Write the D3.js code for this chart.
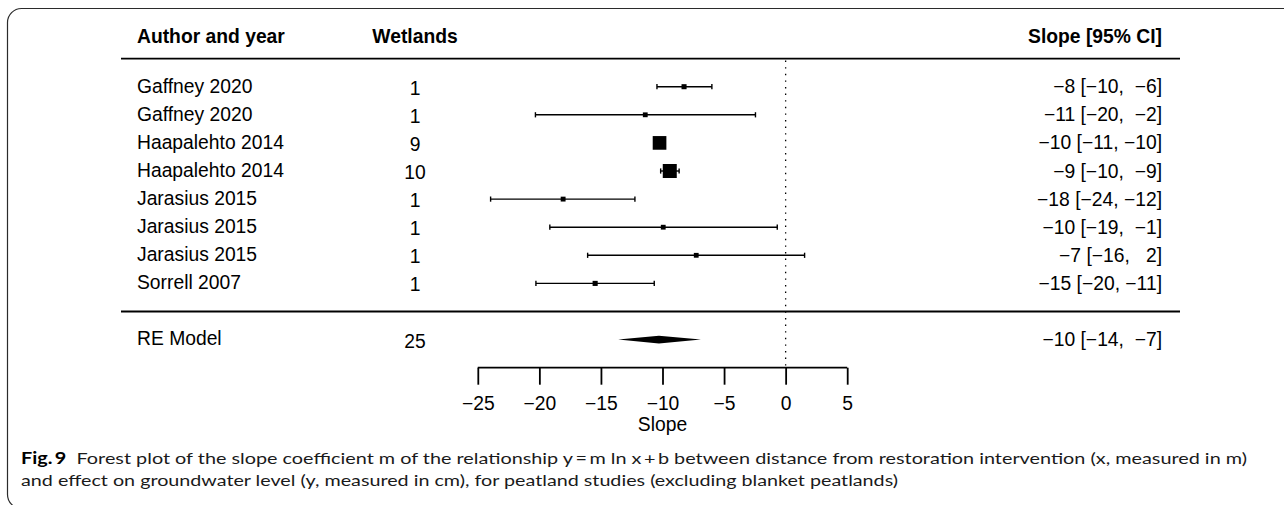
<!DOCTYPE html>
<html>
<head>
<meta charset="utf-8">
<script src="https://cdn.jsdelivr.net/npm/d3@7"></script>
<style>
  html, body { margin: 0; padding: 0; background: #fff; }
  svg { display: block; }
  text { white-space: pre; }
</style>
</head>
<body>
<svg id="chart" width="1284" height="505"></svg>
<script>
// ---------- data ----------
const authors  = ["Gaffney 2020", "Gaffney 2020", "Haapalehto 2014", "Haapalehto 2014",
                  "Jarasius 2015", "Jarasius 2015", "Jarasius 2015", "Sorrell 2007"];
const wetlands = [1, 1, 9, 10, 1, 1, 1, 1];
const estimates = [-8.25, -11.4, -10.24, -9.41, -18.07, -9.94, -7.26, -15.47];
const lowerCI   = [-10.45, -20.32, -10.6, -10.15, -23.96, -19.15, -16.08, -20.28];
const upperCI   = [-5.99, -2.45, -9.9, -8.65, -12.24, -0.68, 1.54, -10.67];
const weights   = [6.9, 6.2, 30.1, 31.0, 6.4, 6.2, 6.2, 7.0];
const ciLabels  = ["\u22128 [\u221210,  \u22126]", "\u221211 [\u221220,  \u22122]", "\u221210 [\u221211, \u221210]",
                   "\u22129 [\u221210,  \u22129]", "\u221218 [\u221224, \u221212]", "\u221210 [\u221219,  \u22121]",
                   "\u22127 [\u221216,   2]", "\u221215 [\u221220, \u221211]"];
const reModel   = { label: "RE Model", wetlands: 25, est: -10.29, lo: -13.6, hi: -6.88,
                    text: "\u221210 [\u221214,  \u22127]" };
const headers   = ["Author and year", "Wetlands", "Slope [95% CI]"];
const xTicks    = [-25, -20, -15, -10, -5, 0, 5];
const xLabel    = "Slope";
const captionBold = "Fig.\u20099";
const captionLine1 = "  Forest plot of the slope coefficient m of the relationship y\u2009=\u2009m ln x\u2009+\u2009b between distance from restoration intervention (x, measured in m)";
const captionLine2 = "and effect on groundwater level (y, measured in cm), for peatland studies (excluding blanket peatlands)";

// ---------- layout ----------
const svg = d3.select("#chart");
const FONT = "'Liberation Sans', Arial, Helvetica, sans-serif";
const FS = 19.3;

const x = d3.scaleLinear().domain([-25, 5]).range([477.8, 847.2]);
const k = authors.length;
const y = d3.scaleLinear().domain([k, -1]).range([86.7, 339.6]);

const colAuthor = 137, colWet = 415, colCI = 1162;
const lineLeft = 121, lineRight = 1180;

// frame
svg.append("rect")
  .attr("x", 7.5).attr("y", 8.5).attr("width", 1300).attr("height", 500)
  .attr("rx", 14).attr("ry", 14)
  .attr("fill", "none").attr("stroke", "#2b2b2b").attr("stroke-width", 1.2);

const g = svg.append("g");

// headers
const hy = y(k + 1.8);
g.append("text").attr("x", colAuthor).attr("y", hy).text(headers[0])
  .attr("font-weight", "bold").attr("text-anchor", "start");
g.append("text").attr("x", colWet).attr("y", hy).text(headers[1])
  .attr("font-weight", "bold").attr("text-anchor", "middle");
g.append("text").attr("x", colCI).attr("y", hy).text(headers[2])
  .attr("font-weight", "bold").attr("text-anchor", "end");

// horizontal rules
[k + 1, 0].forEach(r => {
  g.append("line")
    .attr("x1", lineLeft).attr("x2", lineRight)
    .attr("y1", y(r)).attr("y2", y(r))
    .attr("stroke", "#000").attr("stroke-width", 1.8);
});

// reference line at 0
g.append("line")
  .attr("x1", x(0)).attr("x2", x(0))
  .attr("y1", y(k + 1) + 2).attr("y2", y(-2))
  .attr("stroke", "#000").attr("stroke-width", 1.3)
  .attr("stroke-dasharray", "1.4 5.2");

// study rows
const rows = authors.map((a, i) => ({
  author: a, wet: wetlands[i], est: estimates[i], lo: lowerCI[i], hi: upperCI[i],
  w: weights[i], label: ciLabels[i], row: k - i
}));

const size = d3.scaleLinear().domain([d3.min(weights), d3.max(weights)]).range([4.8, 14]);

const rg = g.selectAll("g.row").data(rows).join("g").attr("class", "row");
rg.append("text").attr("x", colAuthor).attr("y", d => y(d.row) - 0.5).text(d => d.author)
  .attr("text-anchor", "start");
rg.append("text").attr("x", colWet).attr("y", d => y(d.row) + 1.5).text(d => d.wet)
  .attr("text-anchor", "middle");
rg.append("text").attr("x", colCI).attr("y", d => y(d.row)).text(d => d.label)
  .attr("text-anchor", "end");
rg.append("line")
  .attr("x1", d => x(d.lo)).attr("x2", d => x(d.hi))
  .attr("y1", d => y(d.row)).attr("y2", d => y(d.row))
  .attr("stroke", "#000").attr("stroke-width", 1.4);
["lo", "hi"].forEach(key => {
  rg.append("line")
    .attr("x1", d => x(d[key])).attr("x2", d => x(d[key]))
    .attr("y1", d => y(d.row) - 2.6).attr("y2", d => y(d.row) + 2.6)
    .attr("stroke", "#000").attr("stroke-width", 1.4);
});
rg.append("rect")
  .attr("x", d => x(d.est) - size(d.w) / 2)
  .attr("y", d => y(d.row) - size(d.w) / 2)
  .attr("width", d => size(d.w)).attr("height", d => size(d.w))
  .attr("fill", "#000");

// RE model row
const ry = y(-1);
g.append("text").attr("x", colAuthor).attr("y", ry - 1).text(reModel.label).attr("text-anchor", "start");
g.append("text").attr("x", colWet).attr("y", ry + 2).text(reModel.wetlands).attr("text-anchor", "middle");
g.append("text").attr("x", colCI).attr("y", ry).text(reModel.text).attr("text-anchor", "end");
g.append("path")
  .attr("d", d3.line()([[x(reModel.lo), ry], [x(reModel.est), ry - 3.8], [x(reModel.hi), ry], [x(reModel.est), ry + 3.8]]) + "Z")
  .attr("fill", "#000");

// axis
const axisY = y(-2);
const axis = d3.axisBottom(x).tickValues(xTicks).tickSize(17).tickPadding(7)
  .tickFormat(d => (d < 0 ? "\u2212" + Math.abs(d) : String(d)));
const ag = g.append("g").attr("transform", `translate(0,${axisY})`).call(axis);
ag.select(".domain").attr("d", `M${x(-25)},0H${x(5)}`).attr("stroke", "#000").attr("stroke-width", 1.8);
ag.selectAll(".tick line").attr("stroke", "#000").attr("stroke-width", 1.8);
ag.selectAll(".tick text").attr("font-family", FONT).attr("font-size", FS).attr("fill", "#000")
  .attr("dy", null).attr("y", 0).attr("transform", "translate(0,36)")
  .attr("dominant-baseline", "central");
g.append("text").attr("x", (x(-25) + x(5)) / 2).attr("y", axisY + 57).text(xLabel)
  .attr("text-anchor", "middle");

g.selectAll("text").filter(function () { return !this.closest(".tick"); })
  .attr("font-family", FONT).attr("font-size", FS).attr("fill", "#000")
  .attr("dominant-baseline", "central");

// caption
const CAPFONT = "Lato, 'Open Sans', sans-serif";
const cap = svg.append("g").attr("font-family", CAPFONT).attr("fill", "#1a1a1a").attr("font-size", 16.2);
const t1 = cap.append("text").attr("x", 21).attr("y", 456.5).attr("dominant-baseline", "central")
  .attr("textLength", 1226).attr("lengthAdjust", "spacingAndGlyphs");
t1.append("tspan").attr("font-weight", "bold").attr("fill", "#000").text(captionBold);
t1.append("tspan").text(captionLine1);
cap.append("text").attr("x", 21).attr("y", 479).attr("dominant-baseline", "central")
  .attr("textLength", 877).attr("lengthAdjust", "spacingAndGlyphs").text(captionLine2);
</script>
</body>
</html>
